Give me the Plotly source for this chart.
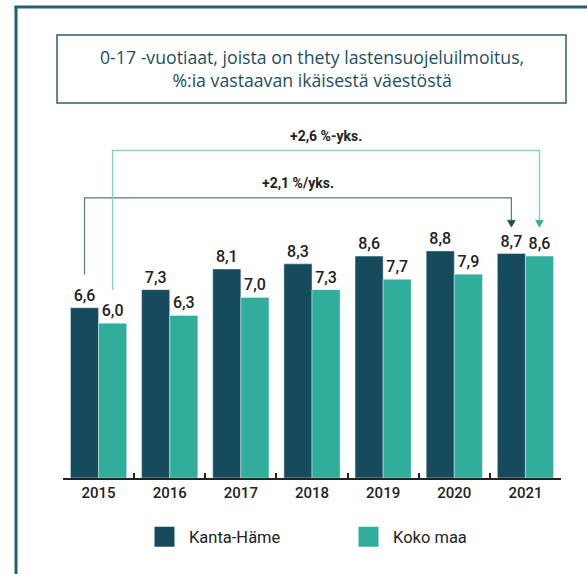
import plotly.graph_objects as go

# ---- data ----
years = ["2015", "2016", "2017", "2018", "2019", "2020", "2021"]
kanta_hame = [6.6, 7.3, 8.1, 8.3, 8.6, 8.8, 8.7]
koko_maa = [6.0, 6.3, 7.0, 7.3, 7.7, 7.9, 8.6]
series_names = ["Kanta-Häme", "Koko maa"]
change_kanta_label = "+2,1 %/yks."
change_koko_label = "+2,6 %-yks."
title_text = "0-17 -vuotiaat, joista on thety lastensuojeluilmoitus,<br>%:ia vastaavan ikäisestä väestöstä"

# ---- style ----
DARK = "#164B5E"
TEAL = "#31AD9C"
FRAME = "#29606F"
TXT = "#222222"
W, H = 587, 574
L, R, T, B = 63, 26, 100, 96
PW, PH = W - L - R, H - T - B
YMAX = 14.65
BARGAP = 0.21
OFF = (1 - BARGAP) / 4          # centre offset of each bar within its group
PX_PER_CAT = PW / len(years)
PX_PER_UNIT = PH / YMAX


def px(X):
    return (X - L) / PW


def py(Y):
    return (H - B - Y) / PH


LABEL_FONT = dict(family="Roboto", size=16, color=TXT, weight=500)

fig = go.Figure()
fig.add_trace(go.Bar(x=years, y=kanta_hame, name=series_names[0], marker_color=DARK,
                     texttemplate="%{y:.1f}", textposition="outside", cliponaxis=False,
                     textfont=LABEL_FONT, showlegend=False, hoverinfo="skip"))
fig.add_trace(go.Bar(x=years, y=koko_maa, name=series_names[1], marker_color=TEAL,
                     texttemplate="%{y:.1f}", textposition="outside", cliponaxis=False,
                     textfont=LABEL_FONT, showlegend=False, hoverinfo="skip"))
# legend entries (large square swatches)
for nm, col in zip(series_names, [DARK, TEAL]):
    fig.add_trace(go.Scatter(x=[None], y=[None], mode="markers", name=nm,
                             marker=dict(symbol="square", size=16, color=col,
                                         line=dict(color=col, width=4))))

shapes = []
annotations = []

# brackets showing change first -> last year
first, last = 0, len(years) - 1
dx_tri = 4 / PX_PER_CAT
dy_tri = 7 / PX_PER_UNIT
tip_y = 9.72
brackets = [
    (kanta_hame, -OFF, 10.86, "#5E7683", DARK, change_kanta_label, 1.2),
    (koko_maa, +OFF, 12.69, "#86D3C7", TEAL, change_koko_label, 1.5),
]
for vals, off, lvl, lcol, acol, lab, lw in brackets:
    x0 = first + off
    x1 = last + off
    ystart = vals[first] + 1.29
    ytop = tip_y + dy_tri
    shapes.append(dict(type="path", xref="x", yref="y",
                       path=f"M {x0},{ystart} L {x0},{lvl} L {x1},{lvl} L {x1},{ytop}",
                       line=dict(color=lcol, width=lw)))
    shapes.append(dict(type="path", xref="x", yref="y",
                       path=f"M {x1 - dx_tri},{ytop} L {x1 + dx_tri},{ytop} L {x1},{tip_y} Z",
                       fillcolor=acol, line=dict(color=acol, width=0.5)))
    annotations.append(dict(x=(x0 + x1) / 2, y=lvl, xref="x", yref="y", text=lab,
                            showarrow=False, yanchor="bottom", yshift=5,
                            font=dict(family="Roboto", size=14, color=TXT, weight=700)))

# outer frame (left + top)
shapes.append(dict(type="line", xref="paper", yref="paper", x0=px(16), x1=px(16),
                   y0=py(6), y1=py(574), line=dict(color=FRAME, width=3)))
shapes.append(dict(type="line", xref="paper", yref="paper", x0=px(14.5), x1=px(587),
                   y0=py(7), y1=py(7), line=dict(color=FRAME, width=3)))
# title box
shapes.append(dict(type="rect", xref="paper", yref="paper", x0=px(57), x1=px(566),
                   y0=py(35), y1=py(103), line=dict(color=FRAME, width=1.5)))
annotations.append(dict(x=px(311.5), y=py(69), xref="paper", yref="paper", text=title_text,
                        showarrow=False, xanchor="center", yanchor="middle", align="center",
                        font=dict(family="Open Sans", size=17.7, color="#1D4F60")))

fig.update_layout(
    width=W, height=H,
    margin=dict(l=L, r=R, t=T, b=B, pad=0),
    paper_bgcolor="white", plot_bgcolor="white",
    barmode="group", bargap=BARGAP, bargroupgap=0,
    separators=", ",
    shapes=shapes, annotations=annotations,
    showlegend=True,
    legend=dict(orientation="h", x=px(140), y=py(537), xanchor="left", yanchor="middle",
                font=dict(family="Roboto", size=16.5, color=TXT),
                itemwidth=39, entrywidth=150, bgcolor="rgba(0,0,0,0)"),
    xaxis=dict(type="category", showline=True, linecolor=TXT, linewidth=1.5,
               ticks="inside", ticklen=5, tickwidth=1.5, tickcolor=TXT,
               tickson="boundaries", showgrid=False, zeroline=False,
               tickfont=dict(family="Roboto", size=15, color=TXT, weight=500)),
    yaxis=dict(visible=False, range=[0, YMAX], showgrid=False, zeroline=False),
)

fig.write_html("out.html", config={"displayModeBar": False},
               post_script="document.body.style.margin='0';")
